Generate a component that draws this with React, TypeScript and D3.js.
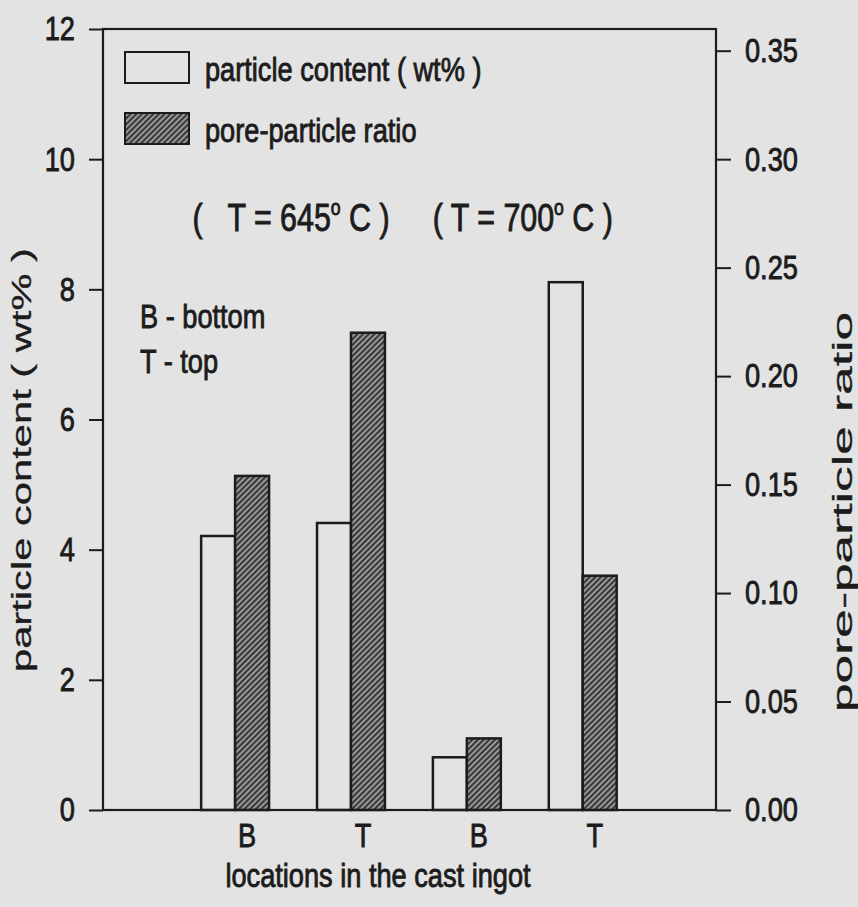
import React, { useRef, useEffect } from "react";
import * as d3 from "d3";

// values
const categories = ["B", "T", "B", "T"];
const slots = [1, 2, 3, 4];
const particleContent = [4.21, 4.41, 0.81, 8.11]; // wt%, left axis
const poreRatio = [0.154, 0.22, 0.033, 0.108]; // right axis
const temperatures = ["645", "700"];
const leftTicks = [0, 2, 4, 6, 8, 10, 12];
const rightTicks = [0, 0.05, 0.1, 0.15, 0.2, 0.25, 0.3, 0.35];
const seriesNames = ["particle content ( wt% )", "pore-particle ratio"];
const notes = ["B - bottom", "T - top"];

const W = 858;
const H = 907;
const margin = { top: 29, right: 142, bottom: 97, left: 103 };
const INK = "#1c1c1c";
const BG = "#e3e3e3";
const SANS = "'Liberation Sans', Arial, sans-serif";
const SX = 0.8; // the scan's type is a narrow grotesque
const HEAVY = 0.9; // thin outline on glyphs, the scan prints heavy

// condensed text: Liberation Sans squeezed horizontally
const NText = ({ x, y, anchor = "start", size = 34, children }: any) => (
  <text transform={`translate(${x},${y}) scale(${SX},1)`} textAnchor={anchor}
    fontFamily={SANS} fontSize={size} fill={INK} stroke={INK} strokeWidth={HEAVY}
    style={{ whiteSpace: "pre" }}>
    {children}
  </text>
);

const App = () => {
  const leftRef = useRef(null);
  const rightRef = useRef(null);

  const x = d3.scaleLinear().domain([-0.14, 5.15]).range([margin.left, W - margin.right]);
  const yL = d3.scaleLinear().domain([0, 12]).range([H - margin.bottom, margin.top]);
  const yR = d3.scaleLinear().domain([0, 0.36]).range([H - margin.bottom, margin.top]);
  const bw = 0.293; // bar width in slot units

  useEffect(() => {
    const gl = d3.select(leftRef.current);
    gl.call(d3.axisLeft(yL).tickValues(leftTicks).tickSize(14).tickFormat(d3.format("d")));
    gl.select(".domain").remove();
    gl.selectAll("line").attr("stroke", INK).attr("stroke-width", 2);
    gl.selectAll("text")
      .attr("x", 0)
      .attr("transform", `translate(-28,0) scale(${SX},1)`)
      .attr("font-family", SANS).attr("font-size", 34).attr("fill", INK)
      .attr("stroke", INK).attr("stroke-width", HEAVY);

    const gr = d3.select(rightRef.current);
    gr.call(d3.axisRight(yR).tickValues(rightTicks).tickSize(15).tickFormat(d3.format(".2f")));
    gr.select(".domain").remove();
    gr.selectAll("line").attr("stroke", INK).attr("stroke-width", 2);
    gr.selectAll("text")
      .attr("x", 0)
      .attr("transform", `translate(29,0) scale(${SX},1)`)
      .attr("font-family", SANS).attr("font-size", 34).attr("fill", INK)
      .attr("stroke", INK).attr("stroke-width", HEAVY);
  }, []);

  const x0 = x.range()[0];
  const x1 = x.range()[1];
  const yBase = yL(0);

  return (
    <svg width={W} height={H} style={{ position: "absolute", left: 0, top: 0, display: "block" }}>
      <defs>
        <pattern id="hatch" width="4" height="4" patternUnits="userSpaceOnUse" patternTransform="rotate(45)">
          <rect width="4" height="4" fill="#979797" />
          <line x1="1" y1="0" x2="1" y2="4" stroke="#383838" strokeWidth="2" />
        </pattern>
      </defs>
      <rect width={W} height={H} fill={BG} />

      {/* bars */}
      {slots.map((s, i) => (
        <g key={i}>
          <rect x={x(s - bw)} y={yL(particleContent[i])} width={x(s) - x(s - bw)}
            height={yBase - yL(particleContent[i])} fill="none" stroke={INK} strokeWidth={2.5} />
          <rect x={x(s)} y={yR(poreRatio[i])} width={x(s + bw) - x(s)}
            height={yBase - yR(poreRatio[i])} fill="url(#hatch)" stroke={INK} strokeWidth={2.5} />
        </g>
      ))}

      {/* frame */}
      <rect x={x0} y={margin.top} width={x1 - x0} height={yBase - margin.top}
        fill="none" stroke={INK} strokeWidth={2.2} />
      <g ref={leftRef} transform={`translate(${x0},0)`} />
      <g ref={rightRef} transform={`translate(${x1},0)`} />

      {/* category labels */}
      {slots.map((s, i) => (
        <NText key={i} x={x(s) + 12} y={847} anchor="middle">{categories[i]}</NText>
      ))}
      <NText x={378} y={887} anchor="middle">locations in the cast ingot</NText>

      {/* temperature groups */}
      {temperatures.map((t, i) => (
        <NText key={t} x={x(1.5 + 2 * i) - 2} y={231} anchor="middle" size={38}>
          {i === 0 ? "(   T = " : "( T = "}{t}
          <tspan dy={-16} fontSize={22}>o</tspan>
          <tspan dy={16}>{" C )"}</tspan>
        </NText>
      ))}

      {/* legend */}
      <rect x={125} y={52} width={64} height={31} fill="none" stroke={INK} strokeWidth={2} />
      <rect x={125} y={113} width={64} height={31} fill="url(#hatch)" stroke={INK} strokeWidth={2} />
      <NText x={205} y={81}>{seriesNames[0]}</NText>
      <NText x={205} y={142}>{seriesNames[1]}</NText>

      {notes.map((n, i) => (
        <NText key={n} x={140} y={328 + 45 * i}>{n}</NText>
      ))}

      {/* axis titles */}
      <text transform="translate(31,460) rotate(-90)" textAnchor="middle" fontFamily={SANS} fontSize={27}
        textLength={424} lengthAdjust="spacingAndGlyphs" fill={INK} stroke={INK} strokeWidth={0.3}>
        particle content ( wt% )
      </text>
      <text transform="translate(852,512) rotate(-90)" textAnchor="middle" fontFamily={SANS} fontSize={27}
        textLength={400} lengthAdjust="spacingAndGlyphs" fill={INK} stroke={INK} strokeWidth={0.3}>
        pore-particle ratio
      </text>
    </svg>
  );
};

export default App;
